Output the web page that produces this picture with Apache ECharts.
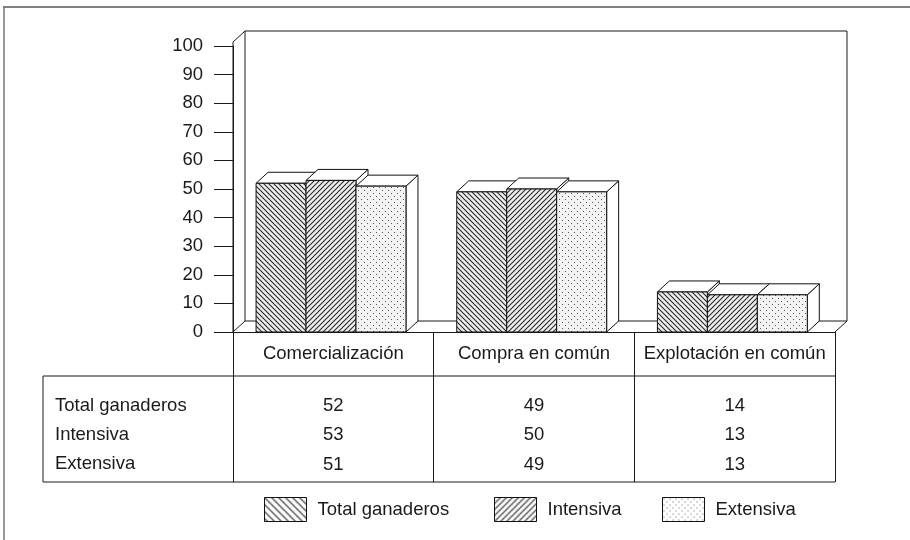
<!DOCTYPE html>
<html><head><meta charset="utf-8">
<script src="https://cdn.jsdelivr.net/npm/echarts@6/dist/echarts.min.js"></script>
<style>html,body{margin:0;background:#fff}#c{width:910px;height:540px}</style>
</head><body><div id="c"></div>
<script>
// ---- data ----
const categories = ['Comercialización', 'Compra en común', 'Explotación en común'];
const seriesNames = ['Total ganaderos', 'Intensiva', 'Extensiva'];
const totalGanaderos = [52, 49, 14];
const intensiva = [53, 50, 13];
const extensiva = [51, 49, 13];
const yMin = 0, yMax = 100, yStep = 10;

// ---- styling ----
const FONT = '"Liberation Sans", Arial, Helvetica, sans-serif';
const INK = '#1a1a1a';
const FS = 18.5;
const DX = 12, DY = 11;            // pseudo-3D depth
const BAR_FRAC = 0.249;            // bar width as share of band
const GROUP_OFF = -0.385;          // group start relative to band centre

function hatch(size, dir, stroke, bg) {
  const c = document.createElement('canvas');
  c.width = size; c.height = size;
  const g = c.getContext('2d');
  g.fillStyle = bg; g.fillRect(0, 0, size, size);
  g.strokeStyle = stroke; g.lineWidth = 1.1;
  g.beginPath();
  if (dir === 'back') {
    g.moveTo(-1, -1); g.lineTo(size + 1, size + 1);
    g.moveTo(-1, size - 1); g.lineTo(1, size + 1);
    g.moveTo(size - 1, -1); g.lineTo(size + 1, 1);
  } else {
    g.moveTo(-1, size + 1); g.lineTo(size + 1, -1);
    g.moveTo(-1, 1); g.lineTo(1, -1);
    g.moveTo(size - 1, size + 1); g.lineTo(size + 1, size - 1);
  }
  g.stroke();
  return c;
}
function dots(size, color, bg) {
  const c = document.createElement('canvas');
  c.width = size; c.height = size;
  const g = c.getContext('2d');
  g.fillStyle = bg; g.fillRect(0, 0, size, size);
  g.fillStyle = color;
  g.fillRect(1, 1, 1, 1);
  g.fillRect(1 + size / 2, 1 + size / 2, 1, 1);
  return c;
}
const barPatterns = [
  { image: hatch(5, 'back', '#2a2a2a', '#eeeeee'), repeat: 'repeat' },
  { image: hatch(5, 'fwd', '#2a2a2a', '#eeeeee'), repeat: 'repeat' },
  { image: dots(6, '#555', '#f3f3f3'), repeat: 'repeat' }
];
const legendPatterns = [
  { image: hatch(7, 'back', '#222', '#fff'), repeat: 'repeat' },
  { image: hatch(6, 'fwd', '#222', '#fff'), repeat: 'repeat' },
  { image: dots(6, '#555', '#fff'), repeat: 'repeat' }
];

function makeRender(k) {
  return function (params, api) {
    const cat = api.value(0), v = api.value(1);
    const top = api.coord([cat, v]);
    const base = api.coord([cat, 0]);
    const band = api.size([1, 0])[0];
    const W = band * BAR_FRAC;
    const x0 = top[0] + band * GROUP_OFF + k * W;
    const ty = top[1], by = base[1];
    const s = { stroke: '#111', lineWidth: 1 };
    return {
      type: 'group',
      children: [
        { type: 'polygon', shape: { points: [[x0 + W, ty], [x0 + W + DX, ty - DY], [x0 + W + DX, by - DY], [x0 + W, by]] },
          style: Object.assign({ fill: '#fff' }, s) },
        { type: 'polygon', shape: { points: [[x0, ty], [x0 + DX, ty - DY], [x0 + W + DX, ty - DY], [x0 + W, ty]] },
          style: Object.assign({ fill: '#fff' }, s) },
        { type: 'rect', shape: { x: x0, y: ty, width: W, height: by - ty },
          style: Object.assign({ fill: barPatterns[k] }, s) }
      ]
    };
  };
}

const seriesData = [totalGanaderos, intensiva, extensiva];
const chart = echarts.init(document.getElementById('c'), null, { renderer: 'canvas' });

chart.setOption({
  animation: false,
  backgroundColor: '#fff',
  grid: { left: 233, right: 75, top: 46, bottom: 208, containLabel: false },
  xAxis: [
    { type: 'category', data: categories, position: 'bottom',
      axisLine: { show: true, lineStyle: { color: INK, width: 1 } },
      axisTick: { show: true, interval: 0, length: 44, lineStyle: { color: INK, width: 1 } },
      axisLabel: { interval: 0, fontSize: FS, fontFamily: FONT, color: INK, margin: 12, lineHeight: 20 },
      splitLine: { show: false } },
    { type: 'category', data: categories, position: 'bottom', offset: 44,
      axisLine: { show: false },
      axisTick: { show: true, interval: 0, length: 106, lineStyle: { color: INK, width: 1 } },
      axisLabel: { interval: 0, fontSize: FS, fontFamily: FONT, color: INK, margin: 15, lineHeight: 29.5,
        formatter: function (v, i) { return [totalGanaderos[i], intensiva[i], extensiva[i]].join('\n'); } },
      splitLine: { show: false } }
  ],
  yAxis: { type: 'value', min: yMin, max: yMax, interval: yStep,
    axisLine: { show: true, lineStyle: { color: INK, width: 1 } },
    axisTick: { show: true, length: 19, lineStyle: { color: INK, width: 1 } },
    axisLabel: { fontSize: FS, fontFamily: FONT, color: INK, margin: 30 },
    splitLine: { show: false } },
  legend: seriesNames.map(function (n, i) {
    return { data: [{ name: n, itemStyle: { color: legendPatterns[i], borderColor: '#111', borderWidth: 1 } }],
      left: [259, 489, 657][i], top: 492, itemWidth: 42, itemHeight: 24, icon: 'rect', selectedMode: false,
      textStyle: { fontSize: FS, fontFamily: FONT, color: INK, padding: [0, 0, 0, 6] } };
  }),
  series: seriesNames.map(function (n, k) {
    return { type: 'custom', name: n, xAxisIndex: 0, yAxisIndex: 0,
      itemStyle: { color: barPatterns[k], borderColor: '#111', borderWidth: 1 },
      data: seriesData[k].map(function (v, i) { return [i, v]; }),
      encode: { x: 0, y: 1 },
      renderItem: makeRender(k) };
  })
});

// decorations: back wall, floor, table frame, outer frame
const y0 = chart.convertToPixel({ yAxisIndex: 0 }, yMin);
const yTop = chart.convertToPixel({ yAxisIndex: 0 }, yMax) - 4;
const c0 = chart.convertToPixel({ xAxisIndex: 0 }, categories[0]);
const c1 = chart.convertToPixel({ xAxisIndex: 0 }, categories[1]);
const cN = chart.convertToPixel({ xAxisIndex: 0 }, categories[categories.length - 1]);
const band = c1 - c0;
const L = c0 - band / 2, R = cN + band / 2;
const tableLeft = 43, rowTop = y0 + 44, rowBottom = y0 + 150;
const line = function (pts, color, w) {
  return { type: 'polyline', z: 0, shape: { points: pts }, style: { stroke: color || INK, lineWidth: w || 1, fill: null } };
};
const rowYs = [406, 435, 464];
chart.setOption({
  graphic: [
    line([[L, y0], [L, yTop], [L + DX, yTop - DY], [R + DX, yTop - DY], [R + DX, y0 - DY], [R, y0]]),
    line([[L, y0], [L + DX, y0 - DY], [L + DX, yTop - DY]]),
    line([[L + DX, y0 - DY], [R + DX, y0 - DY]]),
    line([[tableLeft, rowTop], [R, rowTop]]),
    line([[tableLeft, rowBottom], [R, rowBottom]]),
    line([[tableLeft, rowTop], [tableLeft, rowBottom]]),
    line([[3, 7], [910, 7]], '#555', 1.5),
    line([[4, 7], [4, 540]], '#777', 1.5)
  ].concat(seriesNames.map(function (n, i) {
    return { type: 'text', left: 55, top: rowYs[i] - 10,
      style: { text: n, fontSize: FS, fontFamily: FONT, fill: INK } };
  }))
});
</script>
</body></html>
